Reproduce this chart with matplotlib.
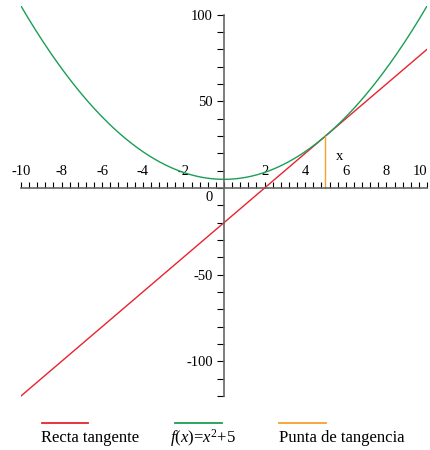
import numpy as np
import matplotlib.pyplot as plt
from matplotlib.lines import Line2D
from matplotlib.ticker import MultipleLocator, FixedLocator

plt.rcParams['font.family'] = ['Liberation Serif', 'DejaVu Serif']
plt.rcParams['axes.unicode_minus'] = False
plt.rcParams['mathtext.fontset'] = 'custom'
plt.rcParams['mathtext.rm'] = 'Liberation Serif'
plt.rcParams['mathtext.it'] = 'Liberation Serif:italic'

# f(x) = x^2 + 5, tangent at x0
x_range = [-10, 10]
x0 = 5
x_major = [-10, -8, -6, -4, -2, 2, 4, 6, 8, 10]
y_major = [-100, -50, 50, 100]
labels = ['Recta tangente', r'$f(x)$=$x^2$+5', 'Punta de tangencia']
colors = ['#e8232e', '#1a9e55', '#f5a030']


def f(x):
    return x ** 2 + 5


def df(x):
    return 2 * x


x = np.linspace(x_range[0], x_range[1], 400)
tangent = f(x0) + df(x0) * (x - x0)

fig = plt.figure(figsize=(4.31, 4.5), dpi=100)
ax = fig.add_axes([0.0487, 0.1162, 0.942, 0.8704])

ax.plot(x, tangent, color=colors[0], lw=1.0)
ax.plot(x, f(x), color=colors[1], lw=1.0)
ax.plot([x0, x0], [0, f(x0)], color=colors[2], lw=1.0)

ax.set_xlim(-10, 10)
ax.set_ylim(-121, 105)

for s in ['bottom', 'right']:
    ax.spines[s].set_visible(False)
ax.spines['top'].set_position(('data', 0))
ax.spines['left'].set_position(('data', 0))
ax.spines['top'].set_bounds(-10, 10)
ax.spines['left'].set_bounds(-120, 100)
for s in ['top', 'left']:
    ax.spines[s].set_color('#666666')
    ax.spines[s].set_linewidth(1.2)

ax.xaxis.set_ticks_position('top')
ax.xaxis.set_major_locator(FixedLocator(x_major))
ax.xaxis.set_minor_locator(MultipleLocator(0.4))
ax.tick_params(axis='x', which='both', direction='out', length=4.5, width=0.8,
               color='black', pad=3, labelsize=10.5)

ax.yaxis.set_major_locator(FixedLocator(y_major))
ax.yaxis.set_minor_locator(MultipleLocator(10))
ax.tick_params(axis='y', which='both', direction='out', length=5, width=0.8,
               color='black', pad=3, labelsize=10.5)

# keep the last x label inside the figure
fig.canvas.draw()
ax.get_xticklabels()[-1].set_horizontalalignment('right')

ax.text(-0.54, -5.2, '0', ha='right', va='center', fontsize=10.5)
ax.text(5.71, 17.9, 'x', ha='center', va='center', fontsize=10.5)

# legend row below the plot
line_x = [(42, 88), (175, 222), (279, 326)]
text_x = [41, 170, 279]
for (x1, x2), tx, c, lab in zip(line_x, text_x, colors, labels):
    fig.add_artist(Line2D([x1 / 431, x2 / 431], [1 - 423 / 450] * 2,
                          color=c, lw=1.3, transform=fig.transFigure))
    fig.text(tx / 431, 1 - 438 / 450, lab, ha='left', va='center', fontsize=12)

fig.savefig('out.png', dpi=100)
